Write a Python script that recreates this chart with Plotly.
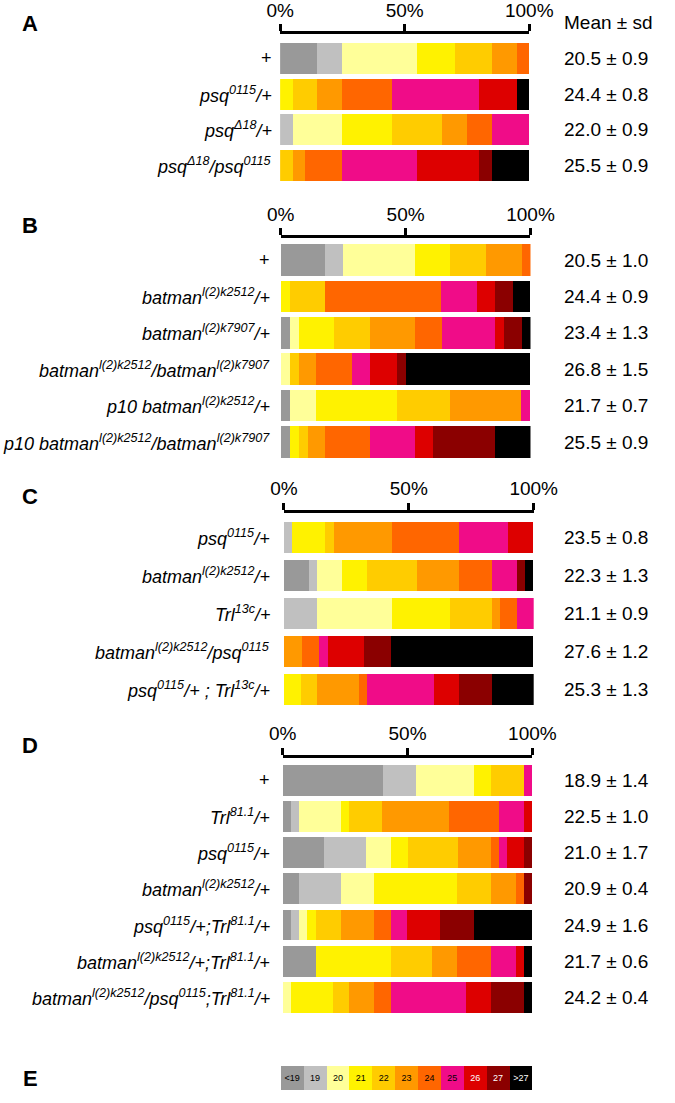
import plotly.graph_objects as go

W, H = 675, 1103

classes = ['<19', '19', '20', '21', '22', '23', '24', '25', '26', '27', '>27']
colors = ['#999999', '#c0c0c0', '#ffff99', '#fff200', '#ffcc00', '#ff9900',
          '#ff6600', '#f00c88', '#dd0000', '#8b0000', '#000000']
legend_text_colors = ['black'] * 8 + ['white'] * 3

# panel A
a_labels = ['+', '<i>psq<sup>0115</sup>/+</i>', '<i>psq<sup>Δ18</sup>/+</i>',
            '<i>psq<sup>Δ18</sup>/psq<sup>0115</sup></i>']
a_means = ['20.5 ± 0.9', '24.4 ± 0.8', '22.0 ± 0.9', '25.5 ± 0.9']
a_pct = [
    [15, 10, 30, 15, 15, 10, 5, 0, 0, 0, 0],
    [0, 0, 0, 5, 10, 10, 20, 35, 15, 0, 5],
    [0, 5, 20, 20, 20, 10, 10, 15, 0, 0, 0],
    [0, 0, 0, 0, 5, 5, 15, 30, 25, 5, 15],
]

# panel B
b_labels = ['+', '<i>batman<sup>l(2)k2512</sup>/+</i>', '<i>batman<sup>l(2)k7907</sup>/+</i>',
            '<i>batman<sup>l(2)k2512</sup>/batman<sup>l(2)k7907</sup></i>',
            '<i>p10 batman<sup>l(2)k2512</sup>/+</i>',
            '<i>p10 batman<sup>l(2)k2512</sup>/batman<sup>l(2)k7907</sup></i>']
b_means = ['20.5 ± 1.0', '24.4 ± 0.9', '23.4 ± 1.3', '26.8 ± 1.5', '21.7 ± 0.7', '25.5 ± 0.9']
b_pct = [
    [17.9, 7.1, 28.6, 14.3, 14.3, 14.3, 3.6, 0, 0, 0, 0],
    [0, 0, 0, 3.6, 14.3, 0, 46.4, 14.3, 7.1, 7.1, 7.1],
    [3.6, 0, 3.6, 14.3, 14.3, 17.9, 10.7, 21.4, 3.6, 7.1, 3.6],
    [0, 0, 3.6, 0, 3.6, 7.1, 14.3, 7.1, 10.7, 3.6, 50.0],
    [3.6, 0, 10.7, 32.1, 21.4, 28.6, 0, 3.6, 0, 0, 0],
    [3.6, 0, 0, 3.6, 3.6, 7.1, 17.9, 17.9, 7.1, 25.0, 14.3],
]

# panel C
c_labels = ['<i>psq<sup>0115</sup>/+</i>', '<i>batman<sup>l(2)k2512</sup>/+</i>',
            '<i>Trl<sup>13c</sup>/+</i>', '<i>batman<sup>l(2)k2512</sup>/psq<sup>0115</sup></i>',
            '<i>psq<sup>0115</sup>/+ ; Trl<sup>13c</sup>/+</i>']
c_means = ['23.5 ± 0.8', '22.3 ± 1.3', '21.1 ± 0.9', '27.6 ± 1.2', '25.3 ± 1.3']
c_pct = [
    [0, 3.3, 0, 13.3, 3.3, 23.3, 26.7, 20.0, 10.0, 0, 0],
    [10.0, 3.3, 10.0, 10.0, 20.0, 16.7, 13.3, 10.0, 0, 3.3, 3.3],
    [0, 13.3, 30.0, 23.3, 16.7, 3.3, 6.7, 6.7, 0, 0, 0],
    [0, 0, 0, 0, 0, 7.1, 7.1, 3.6, 14.3, 10.7, 57.1],
    [0, 0, 0, 6.7, 6.7, 16.7, 3.3, 26.7, 10.0, 13.3, 16.7],
]

# panel D
d_labels = ['+', '<i>Trl<sup>81.1</sup>/+</i>', '<i>psq<sup>0115</sup>/+</i>',
            '<i>batman<sup>l(2)k2512</sup>/+</i>', '<i>psq<sup>0115</sup>/+;Trl<sup>81.1</sup>/+</i>',
            '<i>batman<sup>l(2)k2512</sup>/+;Trl<sup>81.1</sup>/+</i>',
            '<i>batman<sup>l(2)k2512</sup>/psq<sup>0115</sup>;Trl<sup>81.1</sup>/+</i>']
d_means = ['18.9 ± 1.4', '22.5 ± 1.0', '21.0 ± 1.7', '20.9 ± 0.4', '24.9 ± 1.6', '21.7 ± 0.6', '24.2 ± 0.4']
d_pct = [
    [40.0, 13.3, 23.3, 6.7, 13.3, 0, 0, 3.3, 0, 0, 0],
    [3.3, 3.3, 16.7, 3.3, 13.3, 26.7, 20.0, 10.0, 3.3, 0, 0],
    [16.7, 16.7, 10.0, 6.7, 20.0, 13.3, 3.3, 3.3, 6.7, 3.3, 0],
    [6.7, 16.7, 13.3, 33.3, 13.3, 10.0, 3.3, 0, 0, 3.3, 0],
    [3.3, 3.3, 3.3, 3.3, 10.0, 13.3, 6.7, 6.7, 13.3, 13.3, 23.3],
    [13.3, 0, 0, 30.0, 16.7, 10.0, 13.3, 10.0, 3.3, 0, 3.3],
    [0, 0, 3.3, 16.7, 6.7, 10.0, 6.7, 30.0, 10.0, 13.3, 3.3],
]

# pixel geometry of each panel
panels = [
    dict(letter='A', labels=a_labels, means=a_means, pct=a_pct,
         x0=282, x1=546, top=32.3, c1=56.5, pitch=35.7, bar=31, lab_x=275, let_y=22),
    dict(letter='B', labels=b_labels, means=b_means, pct=b_pct,
         x0=282.7, x1=547.3, top=236.7, c1=258.5, pitch=36.46, bar=31.7, lab_x=273, let_y=224),
    dict(letter='C', labels=c_labels, means=c_means, pct=c_pct,
         x0=286, x1=550.7, top=511.7, c1=536.7, pitch=38, bar=31.3, lab_x=273, let_y=495),
    dict(letter='D', labels=d_labels, means=d_means, pct=d_pct,
         x0=284.7, x1=549.3, top=757.3, c1=779.5, pitch=36.3, bar=31, lab_x=273, let_y=745),
]

FONT = 'Liberation Sans, Arial, sans-serif'


def py(p):
    return 1 - p / H


fig = go.Figure()
layout = {}
annotations = []

for k, p in enumerate(panels, start=1):
    n = len(p['labels'])
    ys = list(range(n))
    for j, cls in enumerate(classes):
        fig.add_bar(orientation='h', y=ys, x=[row[j] for row in p['pct']],
                    marker=dict(color=colors[j], line=dict(width=0)),
                    width=p['bar'] / p['pitch'], name=cls,
                    xaxis=f'x{k}', yaxis=f'y{k}', showlegend=False)
    bottom = p['c1'] + (n - 1) * p['pitch'] + p['pitch'] / 2
    layout[f'xaxis{k}'] = dict(
        domain=[p['x0'] / W, p['x1'] / W], range=[0, 100], side='top', anchor=f'y{k}',
        tickvals=[0, 50, 100], ticktext=['0%', '50%', '100%'],
        showline=True, linecolor='black', linewidth=3,
        ticks='outside', ticklen=7, tickwidth=3, tickcolor='black',
        showgrid=False, zeroline=False, fixedrange=True,
        tickfont=dict(size=19, color='black', family=FONT))
    layout[f'yaxis{k}'] = dict(
        domain=[py(bottom), py(p['top'])],
        range=[n - 0.5, -(p['c1'] - p['top']) / p['pitch']],
        anchor=f'x{k}', showticklabels=False, showgrid=False,
        zeroline=False, showline=False, fixedrange=True)
    for i in range(n):
        annotations.append(dict(x=p['lab_x'] / W, xref='paper', y=i, yref=f'y{k}',
                                text=p['labels'][i], xanchor='right', yanchor='middle',
                                showarrow=False, font=dict(size=18, color='black', family=FONT)))
        annotations.append(dict(x=581 / W, xref='paper', y=i, yref=f'y{k}',
                                text=p['means'][i], xanchor='left', yanchor='middle',
                                showarrow=False, font=dict(size=19, color='black', family=FONT)))
    annotations.append(dict(x=17 / W, xref='paper', y=py(p['let_y']), yref='paper',
                            text='<b>' + p['letter'] + '</b>', xanchor='center', yanchor='middle',
                            showarrow=False, font=dict(size=22, color='black', family=FONT)))

annotations.append(dict(x=581 / W, xref='paper', y=py(21), yref='paper', text='Mean ± sd',
                        xanchor='left', yanchor='middle', showarrow=False,
                        font=dict(size=19, color='black', family=FONT)))

# panel E: colour key
for j, cls in enumerate(classes):
    fig.add_bar(orientation='h', y=[0], x=[1], width=1,
                marker=dict(color=colors[j], line=dict(width=0)),
                text=[cls], textposition='inside', insidetextanchor='middle', textangle=0,
                textfont=dict(size=9, color=legend_text_colors[j], family=FONT),
                xaxis='x5', yaxis='y5', showlegend=False)
layout['xaxis5'] = dict(domain=[282.7 / W, 549.3 / W], range=[0, 11], visible=False,
                        anchor='y5', fixedrange=True)
layout['yaxis5'] = dict(domain=[py(1090), py(1066)], range=[-0.5, 0.5], visible=False,
                        anchor='x5', fixedrange=True)
annotations.append(dict(x=17 / W, xref='paper', y=py(1078), yref='paper', text='<b>E</b>',
                        xanchor='center', yanchor='middle', showarrow=False,
                        font=dict(size=22, color='black', family=FONT)))

fig.update_layout(width=W, height=H, margin=dict(l=0, r=0, t=0, b=0),
                  barmode='stack', plot_bgcolor='white', paper_bgcolor='white',
                  showlegend=False, annotations=annotations, font=dict(family=FONT),
                  uniformtext=dict(minsize=8, mode='show'), **layout)

# drop the browser's default 8px page margin so the figure sits at the window origin
fig.write_html("out.html", config={'displayModeBar': False},
               post_script="document.body.style.margin='0';")
